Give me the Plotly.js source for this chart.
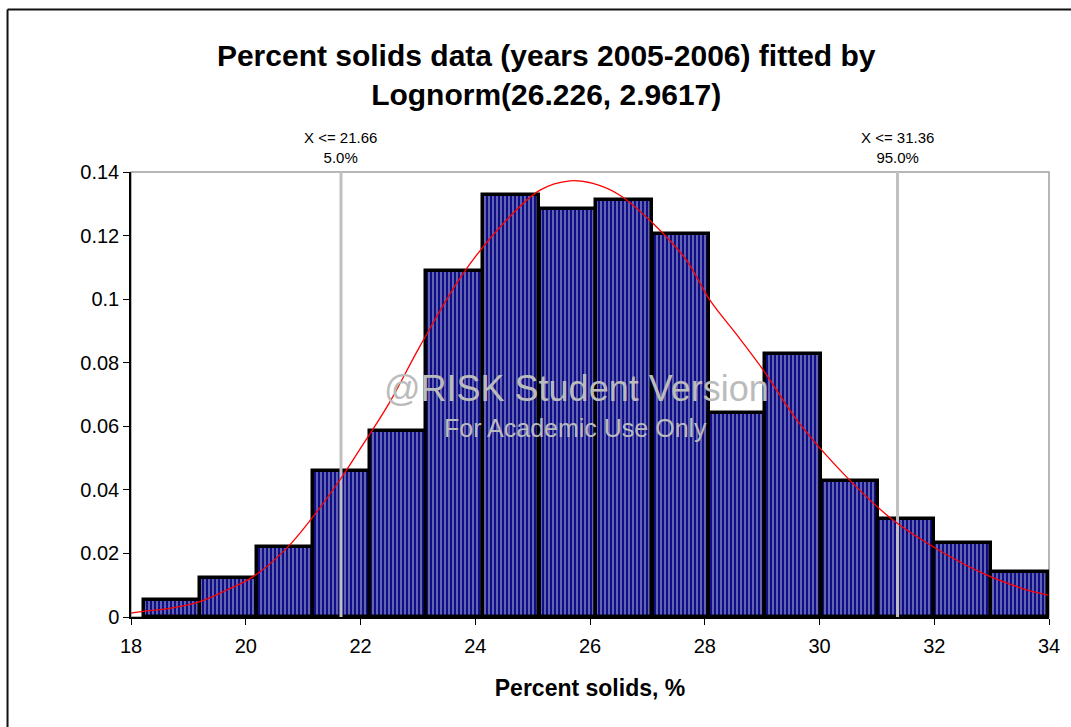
<!DOCTYPE html>
<html>
<head>
<meta charset="utf-8">
<script src="https://cdn.plot.ly/plotly-3.0.1.min.js"></script>
<style>
  html, body { margin: 0; padding: 0; background: #fff; }
  #chart { width: 1071px; height: 727px; }
</style>
</head>
<body>
<div id="chart"></div>
<script>
// Histogram bins (left edges), common bin width and density heights
const binLeft = [18.23, 19.21, 20.20, 21.18, 22.17, 23.15, 24.13, 25.12, 26.10, 27.09, 28.07, 29.05, 30.04, 31.02, 32.00, 32.99];
const binWidth = 0.984;
const density = [0.0052, 0.0123, 0.0219, 0.0458, 0.0585, 0.1088, 0.1329, 0.1284, 0.1312, 0.1206, 0.0642, 0.0828, 0.0428, 0.0308, 0.0232, 0.0143];

// Fitted Lognorm curve
const fitX = [18.0, 18.27, 18.68, 19.2, 19.67, 20.13, 20.71, 21.17, 21.64, 21.98, 22.5, 23.03, 23.79, 24.49, 25.13, 25.65, 26.05, 26.52, 27.1, 27.68, 28.09, 28.55, 29.02, 29.65, 30.47, 31.28, 31.98, 32.85, 33.5, 33.98];
const fitY = [0.0012, 0.0019, 0.0027, 0.0048, 0.0085, 0.0127, 0.0216, 0.0315, 0.0431, 0.0525, 0.0673, 0.085, 0.1081, 0.1238, 0.1343, 0.1372, 0.1364, 0.1327, 0.1238, 0.1123, 0.0997, 0.089, 0.0777, 0.0609, 0.0441, 0.0305, 0.0221, 0.0137, 0.0092, 0.0069];

// Percentile markers
const pctX = [21.66, 31.36];
const pctLabel = ["X <= 21.66<br>5.0%", "X <= 31.36<br>95.0%"];

// Axes ticks
const xTicks = [18, 20, 22, 24, 26, 28, 30, 32, 34];
const yTicks = [0, 0.02, 0.04, 0.06, 0.08, 0.1, 0.12, 0.14];

const FONT = "Arial, 'Liberation Sans', sans-serif";

const traces = [
  {
    type: 'bar',
    x: binLeft,
    y: density,
    width: binLeft.map(() => binWidth),
    offset: 0,
    marker: {
      color: '#0e0e86',
      line: { color: '#000', width: 3.5 },
      pattern: { shape: '|', fgcolor: '#ffffff', bgcolor: '#0e0e86', size: 4, solidity: 0.35, fillmode: 'overlay' }
    },
    hoverinfo: 'x+y',
    showlegend: false
  }
];
pctX.forEach(v => {
  traces.push({
    type: 'scatter', mode: 'lines',
    x: [v, v], y: [0, yTicks[yTicks.length - 1]],
    line: { color: '#c0c0c0', width: 3 },
    hoverinfo: 'skip', showlegend: false
  });
});
traces.push({
  type: 'scatter', mode: 'lines',
  x: fitX, y: fitY,
  line: { color: '#ff0000', width: 1.3, shape: 'spline' },
  showlegend: false
});

const annotations = pctX.map((v, i) => ({
  x: v, xref: 'x', y: 1, yref: 'paper',
  yanchor: 'bottom', xanchor: 'center', yshift: 4,
  text: pctLabel[i], showarrow: false,
  font: { family: FONT, size: 15, color: '#000' }
}));
annotations.push({
  x: 0.4848, y: 0.5146, xref: 'paper', yref: 'paper',
  text: '@RISK Student Version', showarrow: false,
  font: { family: FONT, size: 36, color: '#bbbbbb' }
});
annotations.push({
  x: 0.4837, y: 0.4247, xref: 'paper', yref: 'paper',
  text: 'For Academic Use Only', showarrow: false,
  font: { family: FONT, size: 25, color: '#bbbbbb' }
});

const layout = {
  width: 1071, height: 727,
  paper_bgcolor: '#fff', plot_bgcolor: '#fff',
  margin: { l: 131, r: 22, t: 172, b: 110 },
  font: { family: FONT, color: '#000' },
  title: {
    text: 'Percent solids data (years 2005-2006) fitted by<br>Lognorm(26.226, 2.9617)',
    x: 0.51, xanchor: 'center', xref: 'container',
    y: 0.909, yanchor: 'top', yref: 'container',
    font: { family: FONT, size: 30, weight: 'bold', color: '#000' }
  },
  xaxis: {
    range: [18, 34], tickvals: xTicks, ticks: 'outside', ticklen: 6, tickcolor: '#000',
    showline: true, linecolor: '#000', linewidth: 1.5, showgrid: false, zeroline: false,
    tickfont: { size: 20, family: FONT }, ticklabelstandoff: 4,
    title: { text: 'Percent solids, %', standoff: 24, font: { size: 23, weight: 'bold', family: FONT } }
  },
  yaxis: {
    range: [0, 0.14], tickvals: yTicks, ticks: 'outside', ticklen: 6, tickcolor: '#000',
    showline: true, linecolor: '#000', linewidth: 1.5, showgrid: false, zeroline: false,
    tickfont: { size: 20, family: FONT }
  },
  shapes: [
    { type: 'rect', xref: 'paper', yref: 'paper', x0: 0, x1: 1, y0: 0, y1: 1,
      line: { color: '#a0a0a0', width: 1.5 }, layer: 'below' },
    { type: 'line', xref: 'paper', yref: 'paper', x0: -0.1345, x1: 1.1, y0: 1.365, y1: 1.365,
      line: { color: '#111', width: 2 } },
    { type: 'line', xref: 'paper', yref: 'paper', x0: -0.1345, x1: -0.1345, y0: 1.365, y1: -0.3,
      line: { color: '#111', width: 2 } }
  ],
  annotations: annotations,
  bargap: 0
};

Plotly.newPlot('chart', traces, layout, { displayModeBar: false, staticPlot: false });
</script>
</body>
</html>
